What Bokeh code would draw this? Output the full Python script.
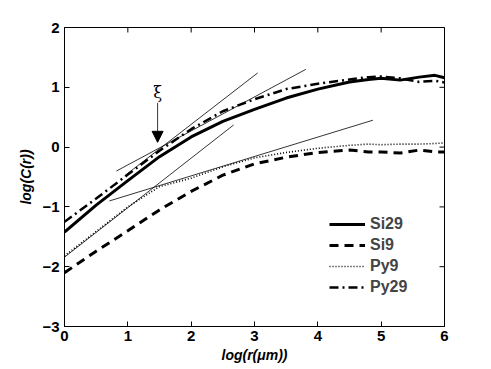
import math
from bokeh.plotting import figure
from bokeh.models import (Range1d, Legend, LegendItem, Arrow,
                          NormalHead, FixedTicker, Label)
from bokeh.embed import file_html
from bokeh.resources import INLINE

# ---- data ----
x_pts = [0, 0.5, 1, 1.5, 2, 2.5, 3, 3.5, 4, 4.5, 4.8, 5, 5.3, 5.6, 5.85, 6]
si29 = [-1.42, -0.97, -0.56, -0.16, 0.17, 0.43, 0.63, 0.82, 0.97, 1.09, 1.13, 1.15, 1.12, 1.17, 1.20, 1.16]
si9 = [-2.10, -1.74, -1.40, -1.05, -0.74, -0.47, -0.28, -0.17, -0.09, -0.05, -0.08, -0.08, -0.10, -0.05, -0.08, -0.08]
py9 = [-1.82, -1.41, -1.00, -0.66, -0.52, -0.33, -0.18, -0.09, -0.02, 0.03, 0.05, 0.04, 0.05, 0.05, 0.06, 0.07]
py29 = [-1.25, -0.86, -0.46, -0.06, 0.30, 0.60, 0.80, 0.97, 1.06, 1.13, 1.17, 1.18, 1.15, 1.09, 1.11, 1.08]

tan_x0 = [0.95, 0.82, 0.00, 0.71]
tan_y0 = [-0.48, -0.40, -1.84, -0.90]
tan_x1 = [3.05, 3.81, 2.67, 4.87]
tan_y1 = [1.24, 1.30, 0.37, 0.45]

xi_x = 1.47
xi_arrow_top = 0.74
xi_arrow_tip = 0.08
xi_label_y = 0.76

x_ticks = [0, 1, 2, 3, 4, 5, 6]
y_ticks = [-3, -2, -1, 0, 1, 2]
y_tick_labels = {-3: "\u22123", -2: "\u22122", -1: "\u22121", 0: "0", 1: "1", 2: "2"}
x_min, x_max = 0, 6
y_min, y_max = -3, 2

FONT = "Liberation Sans"

p = figure(width=491, height=369, x_range=Range1d(x_min, x_max), y_range=Range1d(y_min, y_max),
           output_backend="svg", toolbar_location=None,
           min_border_left=64, min_border_right=47, min_border_top=27, min_border_bottom=43)
p.xgrid.visible = False
p.ygrid.visible = False
p.outline_line_color = "black"
p.outline_line_width = 1

def style_axis(ax, ticks):
    ax.ticker = FixedTicker(ticks=ticks)
    ax.major_tick_in = 5
    ax.major_tick_out = 0
    ax.minor_tick_in = 0
    ax.minor_tick_out = 0
    ax.axis_line_color = "black"
    ax.major_tick_line_color = "black"
    ax.major_label_text_font = FONT
    ax.major_label_text_font_style = "bold"
    ax.major_label_text_font_size = "15px"
    ax.major_label_text_color = "black"
    ax.axis_label_text_font = FONT
    ax.axis_label_text_font_style = "bold italic"
    ax.axis_label_text_font_size = "14px"
    ax.axis_label_text_color = "black"

xa = p.xaxis[0]
style_axis(xa, x_ticks)
xa.axis_label = "log(r(\u03bcm))"
xa.axis_label_standoff = 3
xa.major_label_standoff = 4

ya = p.yaxis[0]
style_axis(ya, y_ticks)
ya.major_label_overrides = y_tick_labels
ya.axis_label = "log(C(r))"
ya.axis_label_standoff = 5

# inward ticks on the top and right frame edges (clipped to the frame)
p.scatter(x=x_ticks, y=[y_max] * len(x_ticks), marker="dash", angle=math.pi / 2,
          size=10, line_color="black", line_width=1)
p.scatter(x=[x_max] * len(y_ticks), y=y_ticks, marker="dash",
          size=10, line_color="black", line_width=1)

# tangent lines
p.segment(x0=tan_x0, y0=tan_y0, x1=tan_x1, y1=tan_y1, line_color="black", line_width=0.8)

r_si29 = p.line(x_pts, si29, line_color="black", line_width=3)
r_si9 = p.line(x_pts, si9, line_color="black", line_width=3, line_dash="9 6")
r_py9 = p.line(x_pts, py9, line_color="black", line_width=1.6, line_dash="1 2")
r_py29 = p.line(x_pts, py29, line_color="black", line_width=2.5, line_dash="9 4 2 4")

p.add_layout(Arrow(end=NormalHead(size=11, fill_color="black", line_color="black"),
                   x_start=xi_x, y_start=xi_arrow_top, x_end=xi_x, y_end=xi_arrow_tip,
                   line_color="black", line_width=0.8))
p.add_layout(Label(x=xi_x, y=xi_label_y, text="\u03be", text_font="DejaVu Serif",
                   text_font_size="16px", text_align="center", text_baseline="bottom",
                   text_color="black"))

legend = Legend(items=[LegendItem(label="Si29", renderers=[r_si29]),
                       LegendItem(label="Si9", renderers=[r_si9]),
                       LegendItem(label="Py9", renderers=[r_py9]),
                       LegendItem(label="Py29", renderers=[r_py29])],
                location=(265, 29))
legend.border_line_alpha = 0
legend.background_fill_alpha = 0
legend.label_text_font = FONT
legend.label_text_font_style = "bold"
legend.label_text_font_size = "16px"
legend.glyph_width = 36
legend.glyph_height = 20
legend.label_height = 20
legend.label_standoff = 5
legend.spacing = 1
legend.padding = 0
legend.margin = 0
p.add_layout(legend, "center")

open("out.html", "w").write(file_html(p, INLINE))
